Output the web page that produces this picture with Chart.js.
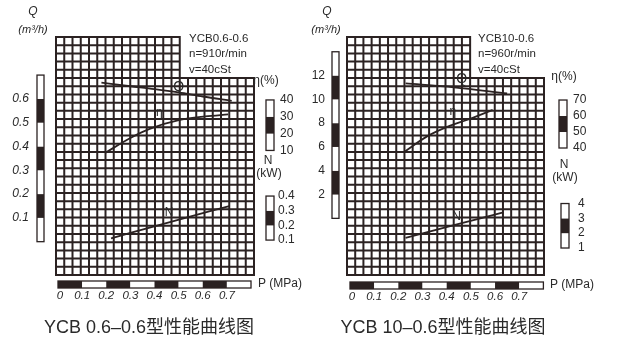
<!DOCTYPE html>
<html lang="zh">
<head>
<meta charset="UTF-8">
<title>YCB 性能曲线图</title>
<script src="https://cdn.jsdelivr.net/npm/chart.js@4.4.0/dist/chart.umd.min.js"></script>
<style>
    body { margin: 0; background: #fff; }
    .wrap { position: relative; width: 632px; height: 350px; }
    .wrap canvas { position: absolute; left: 0; top: 0; }
</style>
</head>
<body>
<div class="wrap">
    <canvas id="left" width="632" height="350"></canvas>
    <canvas id="right" width="632" height="350"></canvas>
</div>
<script>
    // ---- data ----
    // YCB 0.6-0.6
    const leftQP = [0.18, 0.30, 0.40, 0.50, 0.60, 0.72];
    const leftQ = [0.668, 0.653, 0.641, 0.627, 0.610, 0.592];
    const leftEtaP = [0.195, 0.30, 0.38, 0.505, 0.61, 0.705];
    const leftEta = [8.5, 17.4, 22.8, 28.1, 30.2, 31.4];
    const leftNP = [0.22, 0.46, 0.71];
    const leftN = [0.112, 0.221, 0.332];

    // YCB 10-0.6
    const rightQP = [0.23, 0.43, 0.65];
    const rightQ = [11.34, 11.01, 10.50];
    const rightEtaP = [0.226, 0.317, 0.412, 0.483, 0.59];
    const rightEta = [37.7, 47.1, 53.8, 57.5, 63.8];
    const rightNP = [0.23, 0.43, 0.63];
    const rightN = [1.69, 2.54, 3.38];

    // tick labels / scale bars
    const pTicks = [0, 0.1, 0.2, 0.3, 0.4, 0.5, 0.6, 0.7, 0.8];
    const pLabels = ['0', '0.1', '0.2', '0.3', '0.4', '0.5', '0.6', '0.7'];
    const leftQTicks = [0, 0.1, 0.2, 0.3, 0.4, 0.5, 0.6, 0.7];
    const leftQLabels = ['0.1', '0.2', '0.3', '0.4', '0.5', '0.6'];
    const leftEtaTicks = [10, 20, 30, 40];
    const leftNTicks = [0.1, 0.2, 0.3, 0.4];
    const rightQTicks = [0, 2, 4, 6, 8, 10, 12, 14];
    const rightQLabels = ['2', '4', '6', '8', '10', '12'];
    const rightEtaTicks = [40, 50, 60, 70];
    const rightNTicks = [1, 2, 3, 4];

    const INK = '#2b2222';
    const TXT = '#2a2a2a';
    const FONT = '"Liberation Sans", Arial, sans-serif';
    const CJK = '"Liberation Sans", "Noto Sans CJK SC", sans-serif';

    function text(ctx, s, x, y, size, align, italic, font) {
        ctx.font = (italic ? 'italic ' : '') + size + 'px ' + (font || FONT);
        ctx.textAlign = align || 'center';
        ctx.textBaseline = 'middle';
        ctx.fillStyle = TXT;
        ctx.fillText(s, x, y);
    }

    // striped scale bar; blackOdd -> segments 1,3,5.. are dark
    function vBar(ctx, scale, vals, x, w, blackOdd) {
        for (let i = 0; i < vals.length - 1; i++) {
            const y1 = scale.getPixelForValue(vals[i]);
            const y2 = scale.getPixelForValue(vals[i + 1]);
            const dark = (i % 2 === 1) === blackOdd;
            ctx.fillStyle = dark ? INK : '#fff';
            ctx.fillRect(x, y2, w, y1 - y2);
        }
        const top = scale.getPixelForValue(vals[vals.length - 1]);
        const bot = scale.getPixelForValue(vals[0]);
        ctx.strokeStyle = INK; ctx.lineWidth = 1.3;
        ctx.strokeRect(x, top, w, bot - top);
    }
    function hBar(ctx, scale, vals, y, h) {
        for (let i = 0; i < vals.length - 1; i++) {
            const x1 = scale.getPixelForValue(vals[i]);
            const x2 = scale.getPixelForValue(vals[i + 1]);
            ctx.fillStyle = i % 2 === 0 ? INK : '#fff';
            ctx.fillRect(x1, y, x2 - x1, h);
        }
        const l = scale.getPixelForValue(vals[0]);
        const r = scale.getPixelForValue(vals[vals.length - 1]);
        ctx.strokeStyle = INK; ctx.lineWidth = 1.3;
        ctx.strokeRect(l, y, r - l, h);
    }

    function makePanel(cfg) {
        return {
            id: 'panel',
            beforeDatasetsDraw(chart) {
                const ctx = chart.ctx, a = chart.chartArea;
                const cols = 24, rows = 29, notchCol = 15, notchRow = 5;
                const cw = (a.right - a.left) / cols, rh = (a.bottom - a.top) / rows;
                ctx.save();
                ctx.strokeStyle = INK;
                ctx.lineWidth = 2;
                ctx.beginPath();
                for (let i = 0; i <= cols; i++) {
                    const x = a.left + i * cw;
                    ctx.moveTo(x, i <= notchCol ? a.top - 1 : a.top + notchRow * rh - 1);
                    ctx.lineTo(x, a.bottom + 1);
                }
                for (let j = 0; j <= rows; j++) {
                    const y = a.top + j * rh;
                    ctx.moveTo(a.left - 1, y);
                    ctx.lineTo((j < notchRow ? a.left + notchCol * cw : a.right) + 1, y);
                }
                ctx.stroke();
                ctx.restore();
            },
            afterDraw(chart) {
                const ctx = chart.ctx, s = chart.scales;
                ctx.save();
                // scale bars
                vBar(ctx, s.yQ, cfg.qTicks, cfg.qBarX, 7, true);
                vBar(ctx, s.yEta, cfg.etaTicks, cfg.etaBarX, 8, true);
                vBar(ctx, s.yN, cfg.nTicks, cfg.nBarX, 8, true);
                hBar(ctx, s.x, pTicks, cfg.pBarY, 7);

                // Q axis labels
                cfg.qLabels.forEach((l, i) => {
                    text(ctx, l, cfg.qLabelX, s.yQ.getPixelForValue(cfg.qTicks[i + 1]), 12, 'right', cfg.qItalic);
                });
                text(ctx, 'Q', cfg.qHead[0], 12, 12, 'center', true);
                text(ctx, '(m³/h)', cfg.qHead[1], 30, 11, 'center', true);

                // eta & N
                cfg.etaTicks.forEach(v => text(ctx, String(v), cfg.etaLabelX, s.yEta.getPixelForValue(v), 12, 'left'));
                cfg.nTicks.forEach(v => text(ctx, String(v), cfg.nLabelX, s.yN.getPixelForValue(v), 12, 'left'));
                text(ctx, 'η(%)', cfg.etaHead[0], cfg.etaHead[1], 12, 'center');
                text(ctx, 'N', cfg.nHead[0], cfg.nHead[1], 12, 'center');
                text(ctx, '(kW)', cfg.nHead[0] + 1, cfg.nHead[1] + 13, 12, 'center');

                // P axis
                pLabels.forEach((l, i) => {
                    text(ctx, l, s.x.getPixelForValue(pTicks[i]) + (i === 0 ? 2 : 0), cfg.pBarY + 15, 11.5, 'center', true);
                });
                text(ctx, 'P (MPa)', cfg.pHeadX, cfg.pBarY + 3, 12, 'left');

                // pump info
                cfg.info.forEach((t, i) => text(ctx, t, cfg.infoX, 39 + i * 15.2, 11.5, 'left'));

                // curve labels (placed in data coordinates)
                text(ctx, 'Q', s.x.getPixelForValue(cfg.qMark[0]), s.yQ.getPixelForValue(cfg.qMark[1]), 14, 'center');
                text(ctx, 'η', s.x.getPixelForValue(cfg.etaMark[0]), s.yEta.getPixelForValue(cfg.etaMark[1]), 12, 'center');
                text(ctx, 'N', s.x.getPixelForValue(cfg.nMark[0]), s.yN.getPixelForValue(cfg.nMark[1]), 12, 'center');

                // title
                text(ctx, cfg.title, cfg.titleX, 328, 18, 'center', false, CJK);
                ctx.restore();
            }
        };
    }

    function line(px, py, axis) {
        return {
            data: px.map((p, i) => ({ x: p, y: py[i] })),
            yAxisID: axis,
            borderColor: INK,
            borderWidth: 1.8,
            pointRadius: 0,
            cubicInterpolationMode: 'monotone',
            fill: false
        };
    }

    function makeChart(id, series, sc, pad, cfg) {
        const hidden = (min, max) => ({ type: 'linear', min: min, max: max, display: false });
        new Chart(document.getElementById(id), {
            type: 'line',
            data: {
                datasets: [
                    line(series.qP, series.q, 'yQ'),
                    line(series.etaP, series.eta, 'yEta'),
                    line(series.nP, series.n, 'yN')
                ]
            },
            options: {
                responsive: false,
                animation: false,
                layout: { padding: pad },
                plugins: { legend: { display: false }, tooltip: { enabled: false } },
                scales: {
                    x: hidden(sc.x[0], sc.x[1]),
                    yQ: hidden(sc.q[0], sc.q[1]),
                    yEta: hidden(sc.eta[0], sc.eta[1]),
                    yN: hidden(sc.n[0], sc.n[1])
                }
            },
            plugins: [makePanel(cfg)]
        });
    }

    makeChart('left',
        { qP: leftQP, q: leftQ, etaP: leftEtaP, eta: leftEta, nP: leftNP, n: leftN },
        { x: [-0.0083, 0.8124], q: [-0.14, 0.86], eta: [-64.0, 77.4], n: [-0.138, 1.484] },
        { left: 56, right: 378, top: 37, bottom: 75 },
        {
            qTicks: leftQTicks, qLabels: leftQLabels, qItalic: true, qBarX: 37, qLabelX: 29, qHead: [33, 33],
            etaTicks: leftEtaTicks, etaBarX: 266, etaLabelX: 280, etaHead: [266, 81],
            nTicks: leftNTicks, nBarX: 266, nLabelX: 278, nHead: [268, 161],
            pBarY: 281, pHeadX: 258,
            info: ['YCB0.6-0.6', 'n=910r/min', 'v=40cSt'], infoX: 189,
            qMark: [0.50, 0.65], etaMark: [0.42, 32.3], nMark: [0.46, 0.29],
            title: 'YCB 0.6–0.6型性能曲线图', titleX: 149
        });

    makeChart('right',
        { qP: rightQP, q: rightQ, etaP: rightEtaP, eta: rightEta, nP: rightNP, n: rightN },
        { x: [-0.0124, 0.8025], q: [-4.76, 15.24], eta: [-39.4, 109.4], n: [-0.82, 15.23] },
        { left: 347, right: 88, top: 37, bottom: 75 },
        {
            qTicks: rightQTicks, qLabels: rightQLabels, qItalic: false, qBarX: 332, qLabelX: 325, qHead: [327, 326],
            etaTicks: rightEtaTicks, etaBarX: 559, etaLabelX: 573, etaHead: [564, 77],
            nTicks: rightNTicks, nBarX: 561, nLabelX: 578, nHead: [564, 165],
            pBarY: 282, pHeadX: 550,
            info: ['YCB10-0.6', 'n=960r/min', 'v=40cSt'], infoX: 478,
            qMark: [0.462, 11.7], etaMark: [0.425, 62.5], nMark: [0.441, 3.09],
            title: 'YCB 10–0.6型性能曲线图', titleX: 443
        });
</script>
</body>
</html>
